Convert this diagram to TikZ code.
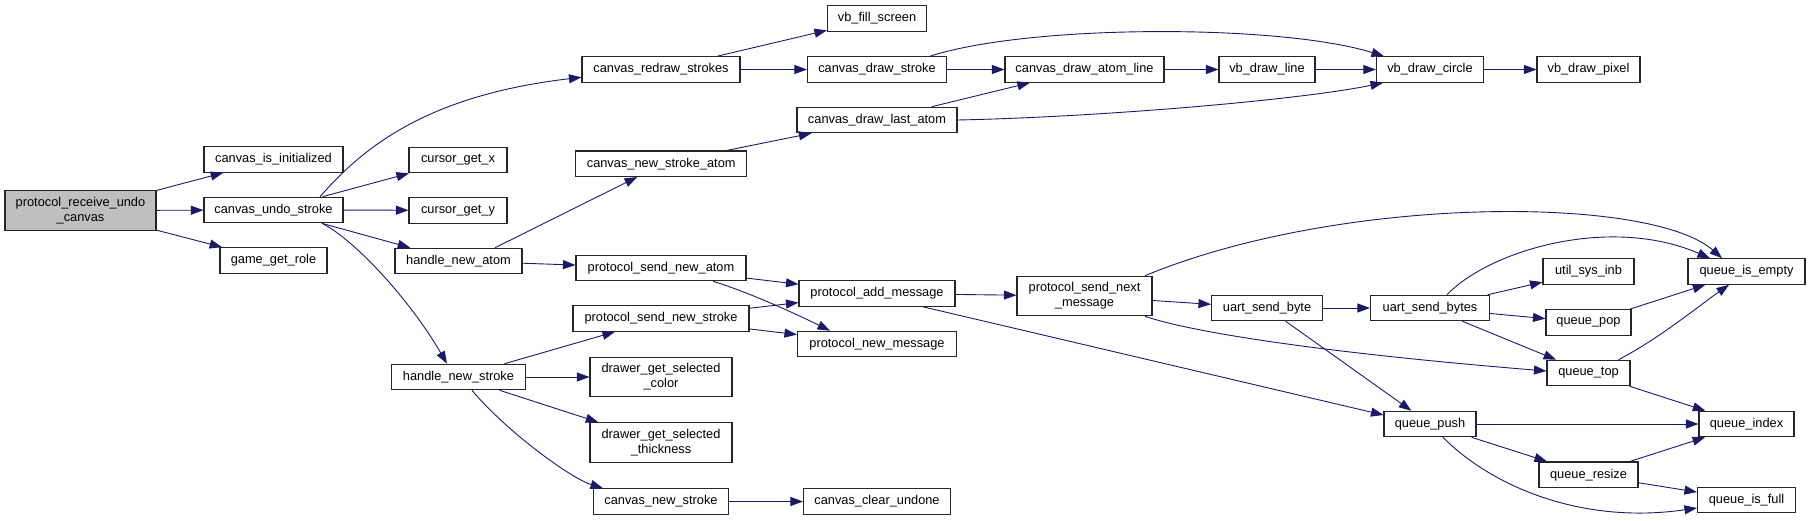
\documentclass[tikz,border=0pt]{standalone}
\usepackage{fontspec}
\setmainfont{Liberation Sans}
\usetikzlibrary{arrows.meta}
\definecolor{edgeblue}{HTML}{191970}
\definecolor{rootgray}{HTML}{BFBFBF}
\tikzset{
  fn/.style={draw=black!85, line width=1.1pt, fill=white, inner sep=0pt,
    minimum height=25.5pt, align=center,
    font=\fontsize{12.8}{15}\selectfont},
  fn2/.style={fn, minimum height=39.5pt},
  rootfn/.style={fn2, fill=rootgray},
  edge/.style={draw=edgeblue, line width=0.9pt,
    -{Triangle[length=12.5pt,width=9pt]}, shorten >=0pt}
}
\begin{document}
\begin{tikzpicture}[x=1pt,y=-1pt]
\useasboundingbox (0,0) rectangle (1811,520);
% nodes
\node[rootfn, minimum width=151] (rcv) at (80.5,210.5) {protocol\_receive\_undo\\\_canvas};
\node[fn, minimum width=139] (cii) at (273.5,159.5) {canvas\_is\_initialized};
\node[fn, minimum width=139] (cus) at (273.5,210) {canvas\_undo\_stroke};
\node[fn, minimum width=107] (ggr) at (273.5,260.5) {game\_get\_role};
\node[fn, minimum width=98] (cgx) at (458,160) {cursor\_get\_x};
\node[fn, minimum width=98] (cgy) at (458,210.3) {cursor\_get\_y};
\node[fn, minimum width=127] (hna) at (458.5,261) {handle\_new\_atom};
\node[fn, minimum width=134] (hns) at (458.5,377) {handle\_new\_stroke};
\node[fn, minimum width=158] (crs) at (661,69.5) {canvas\_redraw\_strokes};
\node[fn, minimum width=171] (nsa) at (661.2,163.7) {canvas\_new\_stroke\_atom};
\node[fn, minimum width=170] (psna) at (661,268) {protocol\_send\_new\_atom};
\node[fn, minimum width=176] (psns) at (661,318.5) {protocol\_send\_new\_stroke};
\node[fn2, minimum width=142] (dgc) at (661,377) {drawer\_get\_selected\\\_color};
\node[fn2, minimum width=142] (dgt) at (661,442.5) {drawer\_get\_selected\\\_thickness};
\node[fn, minimum width=135] (cns) at (661,501.5) {canvas\_new\_stroke};
\node[fn, minimum width=99] (vfs) at (877,18.5) {vb\_fill\_screen};
\node[fn, minimum width=139] (cds) at (877,69.5) {canvas\_draw\_stroke};
\node[fn, minimum width=160] (cdla) at (877,120) {canvas\_draw\_last\_atom};
\node[fn, minimum width=156] (pam) at (877,293.5) {protocol\_add\_message};
\node[fn, minimum width=159] (pnm) at (877,344) {protocol\_new\_message};
\node[fn, minimum width=147] (ccu) at (877,501.5) {canvas\_clear\_undone};
\node[fn, minimum width=159] (cdal) at (1084.5,69.5) {canvas\_draw\_atom\_line};
\node[fn2, minimum width=135] (psnm) at (1084.5,296) {protocol\_send\_next\\\_message};
\node[fn, minimum width=96] (vdl) at (1267,69.5) {vb\_draw\_line};
\node[fn, minimum width=111] (usb) at (1267,308) {uart\_send\_byte};
\node[fn, minimum width=107] (vdc) at (1430,69.5) {vb\_draw\_circle};
\node[fn, minimum width=119] (usbs) at (1430,308) {uart\_send\_bytes};
\node[fn, minimum width=92] (qpush) at (1430,424) {queue\_push};
\node[fn, minimum width=103] (vdp) at (1588.5,69.5) {vb\_draw\_pixel};
\node[fn, minimum width=91] (usi) at (1588.5,271.5) {util\_sys\_inb};
\node[fn, minimum width=85] (qpop) at (1588.5,322.5) {queue\_pop};
\node[fn, minimum width=83] (qtop) at (1588.5,373) {queue\_top};
\node[fn, minimum width=99] (qres) at (1588.5,474.7) {queue\_resize};
\node[fn, minimum width=117] (qie) at (1746.5,271.5) {queue\_is\_empty};
\node[fn, minimum width=95] (qidx) at (1746.5,424) {queue\_index};
\node[fn, minimum width=98] (qif) at (1746.5,500) {queue\_is\_full};
% edges
\draw[edge] (rcv) -- (cii);
\draw[edge] (rcv) -- (cus);
\draw[edge] (rcv) -- (ggr);
\draw[edge] ([xshift=46.5]cus.north) .. controls (365,145) and (430,95) .. ([yshift=-7.8]crs.west);
\draw[edge] (cus) -- (cgx);
\draw[edge] (cus) -- (cgy);
\draw[edge] (cus) -- (hna);
\draw[edge] ([xshift=48.5]cus.south) .. controls (355,240) and (410,300) .. ([xshift=-11.5]hns.north);
\draw[edge] (crs) -- (vfs);
\draw[edge] (crs) -- (cds);
\draw[edge] (cds) -- (cdal);
\draw[edge] ([xshift=53]cds.north) .. controls (1030,24) and (1280,24) .. ([xshift=-46]vdc.north);
\draw[edge] (cdal) -- (vdl);
\draw[edge] (vdl) -- (vdc);
\draw[edge] (vdc) -- (vdp);
\draw[edge] (cdla) -- (cdal);
\draw[edge] (cdla.east) .. controls (1100,117) and (1300,100) .. ([xshift=-47]vdc.south);
\draw[edge] (nsa) -- (cdla);
\draw[edge] ([xshift=36.5]hna.north) -- ([xshift=-24]nsa.south);
\draw[edge] (hna) -- (psna);
\draw[edge] (psna) -- (pam);
\draw[edge] ([xshift=52]psna.south) .. controls (745,291) and (790,311) .. ([xshift=-47]pnm.north);
\draw[edge] (psns) -- (pam);
\draw[edge] (psns) -- (pnm);
\draw[edge] (hns) -- (psns);
\draw[edge] (hns) -- (dgc);
\draw[edge] (hns) -- (dgt);
\draw[edge] ([xshift=13.5]hns.south) .. controls (505,430) and (570,478) .. ([xshift=-58]cns.north);
\draw[edge] (cns) -- (ccu);
\draw[edge] (pam) -- (psnm);
\draw[edge] ([xshift=46]pam.south) -- ([yshift=9]qpush.west);
\draw[edge] ([xshift=60.5]psnm.north) .. controls (1340,195) and (1650,195) .. ([xshift=-24.5]qie.north);
\draw[edge] (psnm) -- (usb);
\draw[edge] ([xshift=60.5]psnm.south) .. controls (1200,335) and (1350,355) .. ([yshift=2]qtop.west);
\draw[edge] (usb) -- (usbs);
\draw[edge] (usb) -- (qpush);
\draw[edge] ([xshift=17]usbs.north) .. controls (1490,250) and (1610,215) .. ([xshift=-36.5]qie.north);
\draw[edge] (usbs) -- (usi);
\draw[edge] (usbs) -- (qpop);
\draw[edge] (usbs) -- (qtop);
\draw[edge] (qpop) -- (qie);
\draw[edge] ([xshift=30]qtop.north) .. controls (1660,338) and (1700,305) .. ([xshift=-17.5]qie.south);
\draw[edge] (qtop) -- (qidx);
\draw[edge] (qpush) -- (qidx);
\draw[edge] (qpush) -- (qres);
\draw[edge] ([xshift=13]qpush.south) .. controls (1490,485) and (1580,525) .. ([yshift=-8]qif.west);
\draw[edge] (qres) -- (qidx);
\draw[edge] (qres) -- (qif);
\end{tikzpicture}
\end{document}
